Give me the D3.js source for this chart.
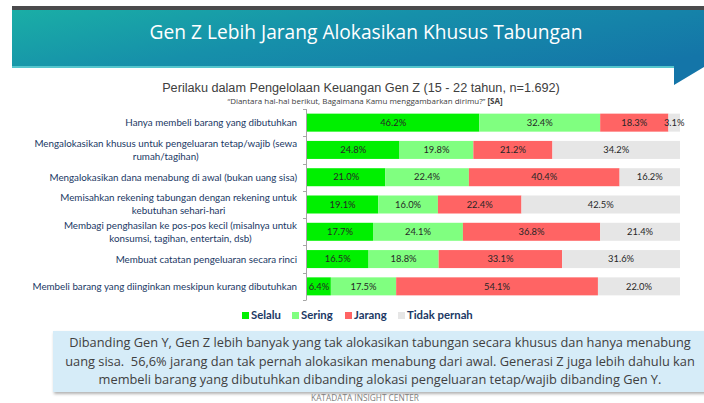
<!DOCTYPE html>
<html><head><meta charset="utf-8">
<script src="https://cdn.jsdelivr.net/npm/d3@7"></script>
<style>html,body{margin:0;padding:0;background:#fff;overflow:hidden}</style>
</head><body>
<script>
const headerTitle = "Gen Z Lebih Jarang Alokasikan Khusus Tabungan";
const chartTitle = "Perilaku dalam Pengelolaan Keuangan Gen Z (15 - 22 tahun, n=1.692)";
const chartSubtitle = "“Diantara hal-hal berikut, Bagaimana Kamu menggambarkan dirimu?” ";
const chartSubtitleTag = "[SA]";
const categories = [
  ["Hanya membeli barang yang dibutuhkan"],
  ["Mengalokasikan khusus untuk pengeluaran tetap/wajib (sewa", "rumah/tagihan)"],
  ["Mengalokasikan dana menabung di awal (bukan uang sisa)"],
  ["Memisahkan rekening tabungan dengan rekening untuk", "kebutuhan sehari-hari"],
  ["Membagi penghasilan ke pos-pos kecil (misalnya untuk", "konsumsi, tagihan, entertain, dsb)"],
  ["Membuat catatan pengeluaran secara rinci"],
  ["Membeli barang yang diinginkan meskipun kurang dibutuhkan"]
];
const seriesNames = ["Selalu", "Sering", "Jarang", "Tidak pernah"];
const selalu = [46.2, 24.8, 21.0, 19.1, 17.7, 16.5, 6.4];
const sering = [32.4, 19.8, 22.4, 16.0, 24.1, 18.8, 17.5];
const jarang = [18.3, 21.2, 40.4, 22.4, 36.8, 33.1, 54.1];
const tidakPernah = [3.1, 34.2, 16.2, 42.5, 21.4, 31.6, 22.0];
const seriesColors = ["#00f000", "#80ff80", "#ff6464", "#e6e6e6"];
const boxLines = [
  "Dibanding Gen Y, Gen Z lebih banyak yang tak alokasikan tabungan secara khusus dan hanya menabung",
  "uang sisa.  56,6% jarang dan tak pernah alokasikan menabung dari awal. Generasi Z juga lebih dahulu kan",
  "membeli barang yang dibutuhkan dibanding alokasi pengeluaran tetap/wajib dibanding Gen Y."
];
const footer = "KATADATA INSIGHT CENTER";

const W = 704, H = 403;
const svg = d3.select("body").append("svg").attr("width", W).attr("height", H)
  .style("display","block");

function fitSize(family, weight, text, target) {
  const t = svg.append("text").attr("font-family", family).attr("font-weight", weight)
    .attr("font-size", 100).style("white-space","pre").text(text);
  const w = t.node().getComputedTextLength();
  t.remove();
  return 100 * target / w;
}

const defs = svg.append("defs");
const grad = defs.append("linearGradient").attr("id","hdr").attr("x1","0").attr("y1","0").attr("x2","1").attr("y2","0.6");
grad.append("stop").attr("offset","0").attr("stop-color","#1aaea6");
grad.append("stop").attr("offset","0.45").attr("stop-color","#1690aa");
grad.append("stop").attr("offset","1").attr("stop-color","#1475a8");
const sh = defs.append("filter").attr("id","sh").attr("x","-5%").attr("y","-20%").attr("width","115%").attr("height","150%");
sh.append("feDropShadow").attr("dx",1).attr("dy",2).attr("stdDeviation",1.5).attr("flood-color","#000").attr("flood-opacity",0.3);

// header
svg.append("rect").attr("x",12).attr("y",6).attr("width",W-12).attr("height",4).attr("fill","#4a4a4c");
svg.append("path").attr("d","M12,10 L704,10 L704,67 L674,85 L674,67 L12,67 Z").attr("fill","url(#hdr)");
svg.append("rect").attr("x",12).attr("y",66).attr("width",662).attr("height",2).attr("fill","#55c6cd");
const hf = "'Open Sans', sans-serif";
svg.append("text").attr("x",366).attr("y",39).attr("text-anchor","middle")
  .attr("font-family",hf).attr("font-size",fitSize(hf,400,headerTitle,433))
  .attr("fill","#fff").text(headerTitle);

// chart title
const tf = "'Liberation Sans', Arial, sans-serif";
svg.append("text").attr("x",361).attr("y",91.5).attr("text-anchor","middle")
  .attr("font-family",tf).attr("font-size",fitSize(tf,400,chartTitle,398))
  .attr("fill","#404040").text(chartTitle);
const sf = "'Open Sans', sans-serif";
const subSize = fitSize(sf,400,chartSubtitle + chartSubtitleTag, 275);
const sub = svg.append("text").attr("x",365).attr("y",104).attr("text-anchor","middle")
  .attr("font-family",sf).attr("font-size",subSize).attr("fill","#404040").style("white-space","pre");
sub.append("tspan").text(chartSubtitle);
sub.append("tspan").attr("font-weight",700).text(chartSubtitleTag);

// scales
const x = d3.scaleLinear().domain([0,100]).range([307,680]);
const y = d3.scaleBand().domain(d3.range(categories.length)).range([109,300])
  .paddingInner(0.34).paddingOuter(0.17);

const rows = categories.map((c,i)=>({i, vals:[selalu[i], sering[i], jarang[i], tidakPernah[i]]}));
const stackData = rows.map(r=>{ let acc=0; return r.vals.map((v,k)=>{ const s={row:r.i,k,v,x0:acc,x1:acc+v}; acc+=v; return s; }); }).flat();

svg.append("g").selectAll("rect").data(stackData).join("rect")
  .attr("x",d=>x(d.x0)).attr("width",d=>x(d.x1)-x(d.x0))
  .attr("y",d=>y(d.row)).attr("height",y.bandwidth())
  .attr("fill",d=>seriesColors[d.k]);

const lf = "Lato, sans-serif";
const valSize = fitSize(lf,400,"46.2%",26);
svg.append("g").selectAll("text").data(stackData).join("text")
  .attr("x",d=>x((d.x0+d.x1)/2)).attr("y",d=>y(d.row)+y.bandwidth()/2)
  .attr("dy","0.35em").attr("text-anchor","middle")
  .attr("font-family",lf).attr("font-size",valSize).attr("fill","#262626")
  .text(d=>d.v.toFixed(1)+"%");

// axis
const ag = svg.append("g").attr("stroke","#a6a6a6").attr("stroke-width",1);
ag.append("line").attr("x1",306.5).attr("x2",306.5).attr("y1",y.range()[0]).attr("y2",y.range()[1]);
const bounds = d3.range(categories.length+1).map(i=>y.range()[0] + i*(y.range()[1]-y.range()[0])/categories.length);
ag.selectAll("line.t").data(bounds).join("line").attr("class","t")
  .attr("x1",303).attr("x2",306.5).attr("y1",d=>Math.round(d)+0.5).attr("y2",d=>Math.round(d)+0.5);

// category labels
const cf = "Lato, sans-serif";
const catSize = fitSize(cf,400,categories[0][0],172);
const lineH = catSize*1.32;
const cg = svg.append("g").attr("font-family",cf).attr("font-size",catSize).attr("fill","#203864");
categories.forEach((lines,i)=>{
  const cy = y(i)+y.bandwidth()/2;
  const widths = lines.map(l=>{ const t=cg.append("text").text(l); const w=t.node().getComputedTextLength(); t.remove(); return w; });
  const maxW = d3.max(widths);
  const center = 297 - maxW/2;
  lines.forEach((l,j)=>{
    const ly = cy + (j - (lines.length-1)/2)*lineH;
    cg.append("text").attr("x", lines.length>1 ? center : 297)
      .attr("text-anchor", lines.length>1 ? "middle" : "end")
      .attr("y",ly).attr("dy","0.35em").text(l);
  });
});

// legend
const legX = [242, 292, 345, 398];
const legSize = fitSize(cf,700,"Selalu",30);
const lg = svg.append("g");
seriesNames.forEach((n,k)=>{
  lg.append("rect").attr("x",legX[k]).attr("y",312).attr("width",7).attr("height",7).attr("fill",seriesColors[k]);
  lg.append("text").attr("x",legX[k]+9).attr("y",315.5).attr("dy","0.35em")
    .attr("font-family",cf).attr("font-weight",700).attr("font-size",legSize).attr("fill","#203864").text(n);
});

// text box
svg.append("rect").attr("x",53).attr("y",331).attr("width",660).attr("height",61)
  .attr("fill","#d6ecf8").attr("filter","url(#sh)");
const bSize = fitSize(hf,400,boxLines[0],622);
boxLines.forEach((l,j)=>{
  svg.append("text").attr("x",380).attr("y",343+j*18.5).attr("dy","0.35em").attr("text-anchor","middle")
    .attr("font-family",hf).attr("font-size",bSize).attr("fill","#404040").style("white-space","pre").text(l);
});
svg.append("text").attr("x",365).attr("y",401).attr("text-anchor","middle")
  .attr("font-family",hf).attr("font-size",fitSize(hf,400,footer,108)).attr("fill","#7f7f7f").text(footer);
</script>
</body></html>
